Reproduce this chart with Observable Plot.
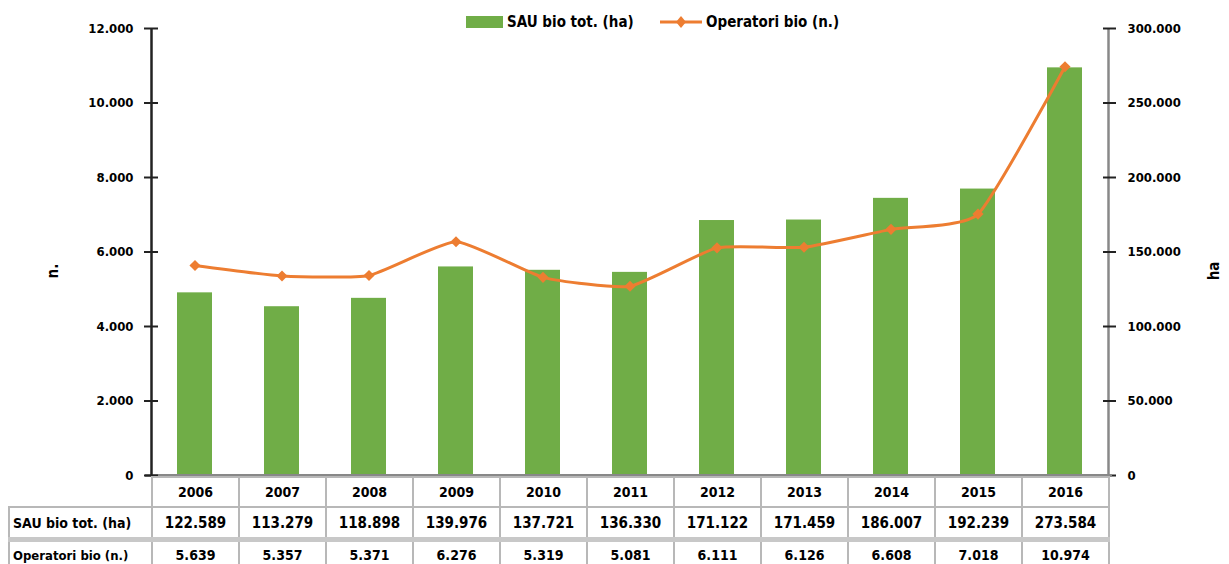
<!DOCTYPE html>
<html><head><meta charset="utf-8">
<script src="https://cdn.jsdelivr.net/npm/d3@7"></script>
<script src="https://cdn.jsdelivr.net/npm/@observablehq/plot@0.6"></script>
<style>
body{margin:0;background:#fff;}
#wrap{position:relative;width:1229px;height:564px;overflow:hidden;font-family:"Liberation Sans Narrow","DejaVu Sans Condensed","Arial Narrow",sans-serif;font-weight:bold;color:#000;}
.layer{position:absolute;left:0;top:0;}
.layer svg{background:transparent !important;}
#legend{position:absolute;top:12px;left:0;width:1229px;height:20px;font-size:15px;}
.lg{position:absolute;top:0;line-height:20px;white-space:nowrap;}
.ttl{position:absolute;font-size:15px;transform:rotate(-90deg);transform-origin:center;}
table{position:absolute;left:8px;top:476px;border-collapse:collapse;font-size:14px;table-layout:fixed;}
td{border:2px solid #b8b8b8;text-align:center;padding:0;overflow:hidden;white-space:nowrap;}
td.lab{text-align:left;padding-left:3px;}
tr.r1 td{height:28px;}
tr.r2 td{height:29px;}
tr.r3 td{height:26px;border-top:5px solid #c8c8c8;}
tr.r1 td.blank{border:none;}
</style></head>
<body><div id="wrap">
<div id="bars" class="layer"></div>
<div id="line" class="layer"></div>
<div id="legend"></div>
<div class="ttl" style="left:46px;top:262px;">n.</div>
<div class="ttl" style="left:1205px;top:262px;">ha</div>
</div>
<script>
const years = ["2006","2007","2008","2009","2010","2011","2012","2013","2014","2015","2016"];
const sauHa = [122589,113279,118898,139976,137721,136330,171122,171459,186007,192239,273584];
const operatori = [5639,5357,5371,6276,5319,5081,6111,6126,6608,7018,10974];
const leftTicks = [0,2000,4000,6000,8000,10000,12000];
const rightTicks = [0,50000,100000,150000,200000,250000,300000];
const seriesNames = ["SAU bio tot. (ha)","Operatori bio (n.)"];
const rowLabels = ["SAU bio tot. (ha)","Operatori bio (n.)"];

const green = "#70AD47", orange = "#ED7D31";
const it = d3.formatLocale({decimal:",",thousands:".",grouping:[3],currency:["",""]});
const fmt = it.format(",");
const data = years.map((y,i)=>({year:y, sau:sauHa[i], op:operatori[i]}));

const W = 1229, H = 478;
const mL = 151, mR = 121;
const step = (W - mL - mR) / years.length;
const common = {
  width: W, height: H,
  marginLeft: mL, marginRight: mR, marginTop: 28, marginBottom: 3,
  style: {fontFamily: '"Liberation Sans Narrow","DejaVu Sans Condensed",sans-serif', fontWeight:"bold", fontSize:"13px", color:"#000", background:"transparent", overflow:"visible"},
};
const xScale = {type:"band", domain: years, paddingInner: 0.6, paddingOuter: 0.3, axis: null};
const blank = () => "";

const barsPlot = Plot.plot({
  ...common,
  x: xScale,
  y: {domain:[0,300000], axis:null},
  marks: [
    Plot.barY(data, {x:"year", y:"sau", fill: green}),
    Plot.ruleX([years[years.length-1]], {stroke:"#888", strokeWidth:2.5, dx: step/2}),
    Plot.axisY({anchor:"right", label:null, ticks: rightTicks, tickSize: 13, dx: -6, tickFormat: blank, stroke:"#222", strokeWidth:2}),
    Plot.axisY({anchor:"right", label:null, ticks: rightTicks, tickSize: 0, tickPadding: 19, tickFormat: fmt, fill:"#000", fontSize:13}),
    Plot.ruleY([0], {stroke:"#888", strokeWidth:3, insetLeft:-6, insetRight:-4}),
  ]
});
document.getElementById("bars").appendChild(barsPlot);

const linePlot = Plot.plot({
  ...common,
  x: xScale,
  y: {domain:[0,12000], axis:null},
  marks: [
    Plot.ruleX([years[0]], {stroke:"#222", strokeWidth:2.5, dx: -step/2}),
    Plot.axisY({anchor:"left", label:null, ticks: leftTicks, tickSize: 14, dx: 7, tickFormat: blank, stroke:"#222", strokeWidth:2}),
    Plot.axisY({anchor:"left", label:null, ticks: leftTicks, tickSize: 0, tickPadding: 18, tickFormat: fmt, fill:"#000", fontSize:13}),
    Plot.line(data, {x:"year", y:"op", stroke: orange, strokeWidth: 3, curve:"cardinal", tension: 0.5}),
    Plot.dot(data, {x:"year", y:"op", symbol:"diamond2", r:5, fill: orange, stroke:"none"}),
  ]
});
document.getElementById("line").appendChild(linePlot);

// legend
const lg = document.getElementById("legend");
lg.innerHTML = `
<div class="lg" style="left:466px;top:4px;width:37px;height:12px;background:${green};"></div>
<div class="lg" style="left:507px;">${seriesNames[0]}</div>
<svg class="lg" style="left:660px;top:0px;" width="42" height="20"><line x1="0" y1="10" x2="42" y2="10" stroke="${orange}" stroke-width="3"/><path d="M21,4 L26,10 L21,16 L16,10Z" fill="${orange}"/></svg>
<div class="lg" style="left:706px;">${seriesNames[1]}</div>`;

// table
const table = document.createElement("table");
let html = `<colgroup><col style="width:143px">${years.map(()=>'<col style="width:87px">').join("")}</colgroup>`;
html += `<tr class="r1"><td class="blank"></td>${years.map(y=>`<td>${y}</td>`).join("")}</tr>`;
html += `<tr class="r2"><td class="lab">${rowLabels[0]}</td>${sauHa.map(v=>`<td style="font-size:15px">${fmt(v)}</td>`).join("")}</tr>`;
html += `<tr class="r3"><td class="lab" style="font-size:13px">${rowLabels[1]}</td>${operatori.map(v=>`<td>${fmt(v)}</td>`).join("")}</tr>`;
table.innerHTML = html;
document.getElementById("wrap").appendChild(table);
</script>
</body></html>
